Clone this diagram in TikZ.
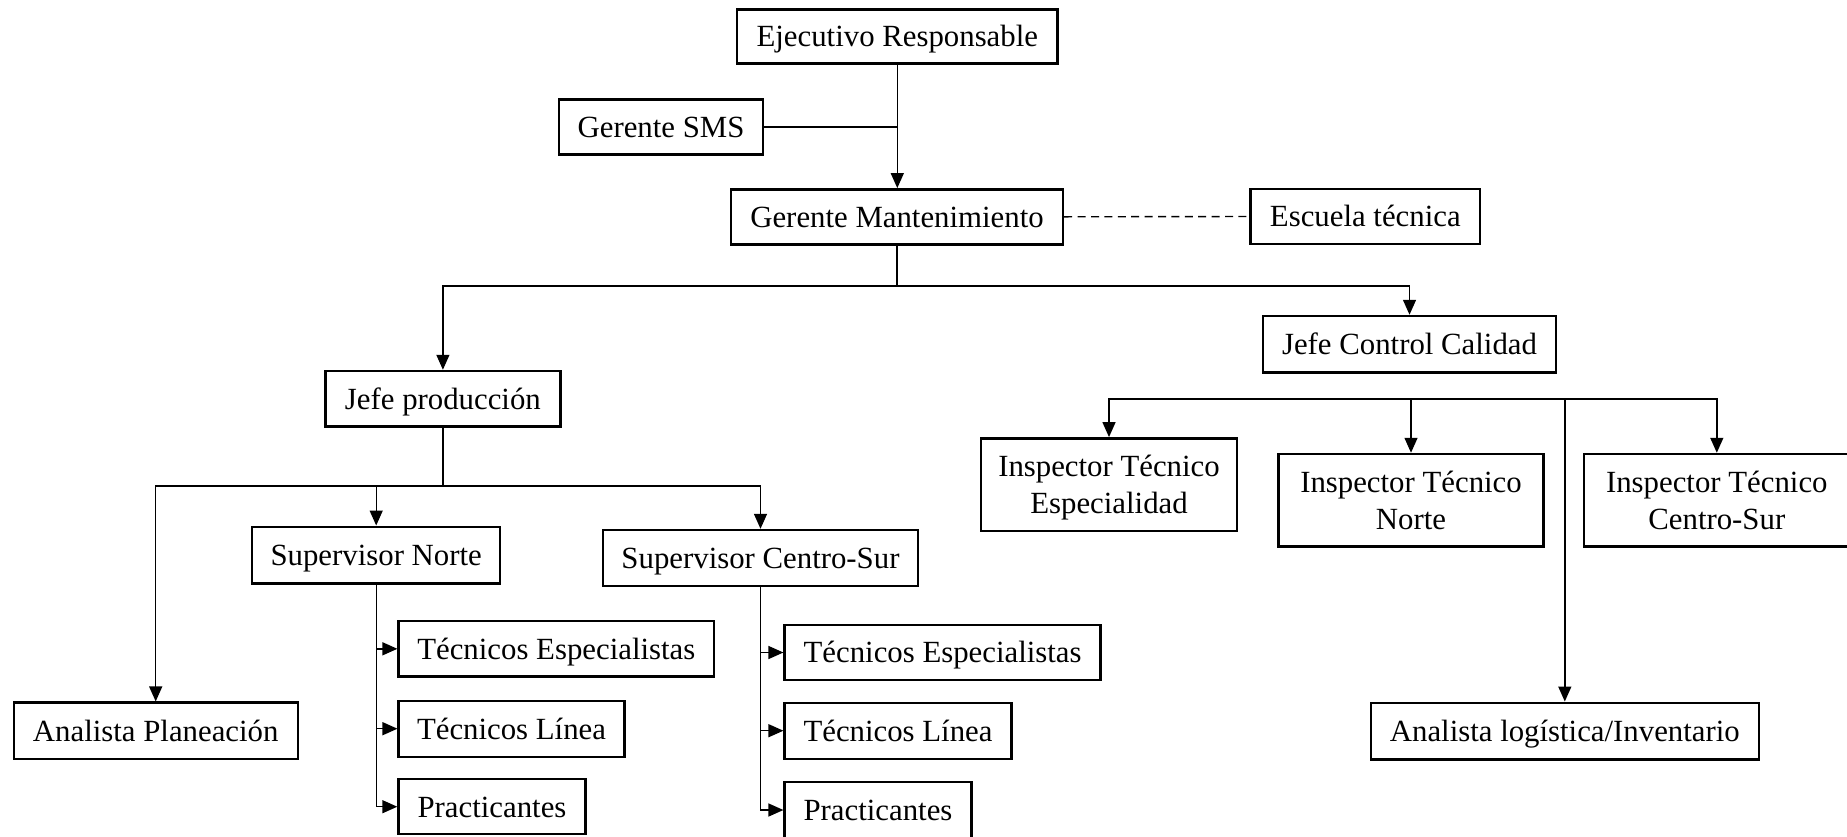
\documentclass[tikz,border=0pt]{standalone}
\usepackage{fontspec}
\setmainfont{Liberation Serif}
\usetikzlibrary{arrows.meta}
\begin{document}
\begin{tikzpicture}[x=0.5pt,y=-0.5pt,
  frame/.style={draw,line width=1.2pt,inner sep=0pt,
    font=\fontsize{15.4}{18.3}\selectfont},
  box/.style={frame,text height=10.4pt,text depth=0pt},
  twoline/.style={frame,align=center},
  sz/.style 2 args={minimum width=#1*0.5pt,minimum height=#2*0.5pt},
  link/.style={line width=0.7pt},
  arr/.style={link,-{Triangle[length=7.5pt,width=6.5pt]}},
  dotlink/.style={link,dash pattern=on 4pt off 2.7pt},
]
\useasboundingbox (0,0) rectangle (1847,836);

% top of the chart
\node[box,sz={320.6}{54}] (ejec) at (897.3,36.3) {Ejecutivo Responsable};
\node[box,sz={204}{55}]   (sms)  at (661,126.8)  {Gerente SMS};
\node[box,sz={332}{55}]   (gm)   at (897,216.8)  {Gerente Mantenimiento};
\node[box,sz={229.3}{55}] (esc)  at (1365.3,216.5) {Escuela técnica};

% production branch
\node[box,sz={235}{55.7}]  (jp)  at (442.9,398.8) {Jefe producción};
\node[box,sz={248}{56.6}]  (sn)  at (376.2,555)   {Supervisor Norte};
\node[box,sz={314.7}{56}]  (scs) at (760.5,558)   {Supervisor Centro-Sur};
\node[box,sz={284}{56.3}]  (ap)  at (155.7,730.8) {Analista Planeación};

\node[box,sz={315.4}{55.7}] (ten) at (556.3,648.8) {Técnicos Especialistas};
\node[box,sz={225.7}{56}]   (tln) at (511.5,728.7) {Técnicos Línea};
\node[box,sz={187}{55}]     (prn) at (492,806.7)   {Practicantes};

\node[box,sz={316}{55}]     (tecs) at (942.6,652.5) {Técnicos Especialistas};
\node[box,sz={226.8}{56}]   (tlcs) at (898,730.7)   {Técnicos Línea};
\node[box,sz={186.8}{56}]   (prcs) at (878,810)     {Practicantes};

% quality branch
\node[box,sz={293}{56.5}]       (jcc)  at (1409.5,344.2) {Jefe Control Calidad};
\node[twoline,sz={256}{92.4}]   (ite)  at (1109,484.5)   {Inspector Técnico\\\smash{Especialidad}};
\node[twoline,sz={265.3}{92.7}] (itn)  at (1411,500.3)   {Inspector Técnico\\Norte};
\node[twoline,sz={265.8}{92.7}] (itcs) at (1716.8,500.3) {Inspector Técnico\\Centro-Sur};
\node[box,sz={388}{56.6}]       (al)   at (1564.8,731)   {Analista logística/Inventario};

% bus junctions
\coordinate (b1) at (897,286);
\coordinate (b2) at (442.9,486);
\coordinate (b3) at (1411,399);
\coordinate (b4) at (al.north |- b3);

% connectors
\draw[arr] (ejec.south) -- (ejec.south |- gm.north);
\draw[link] (sms.east) -- (sms.east -| ejec.south);
\draw[dotlink] (gm.east) -- (esc.west);

\draw[link] (gm.south) -- (b1);
\draw[arr] (b1) -| (jp.north);
\draw[arr] (b1) -| (jcc.north);

\draw[link] (jp.south) -- (b2);
\draw[arr] (b2) -| (ap.north);
\draw[arr] (b2) -| (sn.north);
\draw[arr] (b2) -| (scs.north);

\draw[arr] (sn.south) |- (ten.west);
\draw[arr] (sn.south) |- (tln.west);
\draw[arr] (sn.south) |- (prn.west);

\draw[arr] (scs.south) |- (tecs.west);
\draw[arr] (scs.south) |- (tlcs.west);
\draw[arr] (scs.south) |- (prcs.west);

\draw[arr] (b3) -| (ite.north);
\draw[arr] (b3) -- (itn.north);
\draw[arr] (b3) -| (itcs.north);
\draw[arr] (b4) -- (al.north);
\end{tikzpicture}
\end{document}
